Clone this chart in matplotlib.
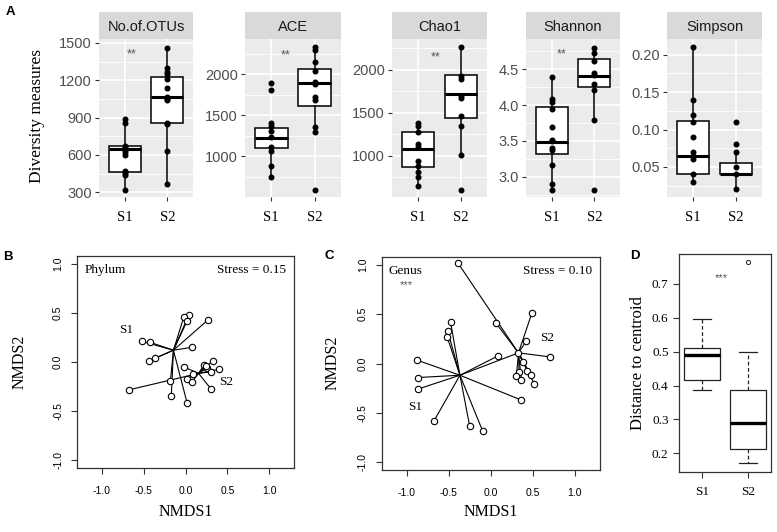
import matplotlib
matplotlib.use("Agg")
import matplotlib.pyplot as plt
import numpy as np

plt.rcParams['axes.unicode_minus'] = False
SANS = 'Liberation Sans'
SERIF = 'Liberation Serif'

W, H = 777, 532

# ---------------- Panel A data ----------------
metrics = ["No.of.OTUs", "ACE", "Chao1", "Shannon", "Simpson"]
groups = ["S1", "S2"]

otus_s1 = [886, 854, 674, 653, 640, 626, 600, 473, 452, 438, 318]
otus_s2 = [1462, 1296, 1269, 1251, 1208, 1136, 1068, 1052, 1042, 859, 849, 632, 364]
ace_s1 = [1894, 1805, 1398, 1366, 1305, 1235, 1113, 1065, 881, 747]
ace_s2 = [2325, 2293, 2150, 2041, 1906, 1878, 1723, 1683, 1358, 1289, 585]
chao_s1 = [1380, 1349, 1283, 1139, 1101, 945, 887, 817, 752, 655]
chao_s2 = [2264, 1930, 1891, 1698, 1671, 1465, 1349, 1012, 605]
shan_s1 = [4.385, 4.083, 4.046, 3.944, 3.69, 3.52, 3.50, 3.40, 3.37, 3.16, 2.90, 2.82]
shan_s2 = [4.80, 4.72, 4.61, 4.44, 4.42, 4.30, 4.21, 3.79, 2.82]
simp_s1 = [0.21, 0.14, 0.12, 0.11, 0.09, 0.07, 0.065, 0.06, 0.04, 0.03]
simp_s2 = [0.11, 0.08, 0.07, 0.05, 0.04, 0.02]

# box statistics: whislo, q1, median, q3, whishi
otus_box = [[318, 460, 648, 674, 886], [364, 859, 1063, 1224, 1462]]
ace_box = [[747, 1097, 1223, 1337, 1398], [1289, 1610, 1886, 2061, 2325]]
chao_box = [[655, 875, 1078, 1275, 1380], [1012, 1438, 1721, 1942, 2264]]
shan_box = [[2.82, 3.315, 3.48, 3.968, 4.385], [3.79, 4.25, 4.40, 4.64, 4.80]]
simp_box = [[0.03, 0.04, 0.065, 0.112, 0.21], [0.02, 0.04, 0.04, 0.055, 0.07]]

a_points = [(otus_s1, otus_s2), (ace_s1, ace_s2), (chao_s1, chao_s2),
            (shan_s1, shan_s2), (simp_s1, simp_s2)]
a_boxes = [otus_box, ace_box, chao_box, shan_box, simp_box]
a_ylims = [(262, 1532), (500, 2427), (523, 2360), (2.72, 4.92), (0.0098, 0.221)]
a_yticks = [[300, 600, 900, 1200, 1500], [1000, 1500, 2000], [1000, 1500, 2000],
            [3.0, 3.5, 4.0, 4.5], [0.05, 0.10, 0.15, 0.20]]
a_ytick_labels = [["300", "600", "900", "1200", "1500"], ["1000", "1500", "2000"],
                  ["1000", "1500", "2000"], ["3.0", "3.5", "4.0", "4.5"],
                  ["0.05", "0.10", "0.15", "0.20"]]
a_minor = [[450, 750, 1050, 1350], [750, 1250, 1750, 2250], [750, 1250, 1750, 2250],
           [2.75, 3.25, 3.75, 4.25, 4.75], [0.025, 0.075, 0.125, 0.175]]
a_sig = ["**", "**", "**", "**", ""]
a_sig_pos = [(1.17, 1409), (1.34, 2232), (1.42, 2143), (1.24, 4.70), (1.5, 0.2)]

# ---------------- Panel B data (Phylum NMDS) ----------------
b_s1_x = [0.04, -0.02, 0.02, 0.27, -0.52, -0.42, 0.08, -0.36, -0.44, -0.18, -0.17, 0.02]
b_s1_y = [0.48, 0.46, 0.42, 0.43, 0.21, 0.20, 0.15, 0.04, 0.01, -0.19, -0.35, -0.42]
b_s2_x = [-0.02, 0.02, 0.08, 0.09, 0.22, 0.33, 0.26, 0.40, 0.30, 0.31, -0.68, 0.24]
b_s2_y = [-0.05, -0.17, -0.20, -0.12, -0.03, 0.015, -0.06, -0.075, -0.10, -0.28, -0.285, -0.04]
b_centroids = [(-0.144, 0.12), (0.156, -0.116)]

# ---------------- Panel C data (Genus NMDS) ----------------
c_s1_x = [-0.477, -0.51, -0.518, -0.876, -0.86, -0.86, -0.673, -0.25, -0.095, 0.362, 0.087, 0.33]
c_s1_y = [0.417, 0.329, 0.271, 0.034, -0.142, -0.258, -0.58, -0.635, -0.686, -0.37, 0.077, 0.108]
c_s2_x = [-0.39, 0.06, 0.489, 0.425, 0.704, 0.385, 0.437, 0.338, 0.306, 0.366, 0.477, 0.517]
c_s2_y = [1.02, 0.413, 0.509, 0.23, 0.067, 0.016, -0.075, -0.085, -0.129, -0.17, -0.119, -0.204]
c_centroids = [(-0.366, -0.119), (0.33, 0.108)]

# ---------------- Panel D data (distance to centroid) ----------------
d_box = [[0.387, 0.415, 0.489, 0.51, 0.597], [0.17, 0.212, 0.29, 0.387, 0.498]]
d_outliers = [[], [0.765]]

# =====================================================================
fig = plt.figure(figsize=(W / 100, H / 100), dpi=100)


def fx(px):
    return px / W


def fy(py):
    return 1 - py / H


a_xpix = [(99, 193), (245, 341), (392, 487), (526, 620), (667, 762)]
a_top, a_bot, strip_top = 39, 197, 12

for i, m in enumerate(metrics):
    x0, x1 = a_xpix[i]
    ax = fig.add_axes([fx(x0), fy(a_bot), fx(x1 - x0), (a_bot - a_top) / H])
    ax.set_facecolor('#EBEBEB')
    for s in ax.spines.values():
        s.set_visible(False)
    ax.set_xlim(0.4, 2.6)
    ax.set_ylim(*a_ylims[i])
    for v in a_minor[i]:
        ax.axhline(v, color='white', lw=0.6, zorder=0.5)
    for v in a_yticks[i]:
        ax.axhline(v, color='white', lw=1.2, zorder=0.6)
    for v in [1, 2]:
        ax.axvline(v, color='white', lw=1.2, zorder=0.6)
    stats = []
    for g in range(2):
        lo, q1, med, q3, hi = a_boxes[i][g]
        stats.append(dict(whislo=lo, q1=q1, med=med, q3=q3, whishi=hi, fliers=[]))
    ax.bxp(stats, positions=[1, 2], widths=0.75, patch_artist=True, showcaps=False,
           boxprops=dict(facecolor='white', edgecolor='black', lw=1.1),
           whiskerprops=dict(color='black', lw=1.1),
           medianprops=dict(color='black', lw=2.2), zorder=2)
    for g in range(2):
        pts = a_points[i][g]
        ax.plot([g + 1] * len(pts), pts, 'o', color='black', ms=3.3, zorder=3)
    ax.set_xticks([1, 2])
    ax.set_xticklabels(groups, fontfamily=SERIF, fontsize=10.5, color='black')
    ax.set_yticks(a_yticks[i])
    ax.set_yticklabels(a_ytick_labels[i], fontfamily=SANS, fontsize=10.5, color='#4D4D4D')
    ax.tick_params(axis='both', length=3, width=0.8, color='#333333', pad=2)
    ax.tick_params(axis='x', pad=7)
    if a_sig[i]:
        ax.text(*a_sig_pos[i], a_sig[i], ha='center', va='center', fontsize=9,
                color='#555555', fontfamily=SANS)
    # strip
    sax = fig.add_axes([fx(x0), fy(a_top), fx(x1 - x0), (a_top - strip_top) / H])
    sax.set_facecolor('#D9D9D9')
    sax.set_xticks([])
    sax.set_yticks([])
    for s in sax.spines.values():
        s.set_visible(False)
    sax.text(0.5, 0.45, m, ha='center', va='center', fontsize=10.5,
             fontfamily=SANS, color='#1A1A1A', transform=sax.transAxes)

fig.text(fx(37), fy(116), "Diversity measures", rotation=90, ha='center', va='center',
         fontsize=12.5, fontfamily=SERIF)


def nmds_panel(rect, s1x, s1y, s2x, s2y, cents, title, stress, lab_pos, extra=None):
    ax = fig.add_axes(rect)
    ax.set_xlim(-1.296, 1.296)
    ax.set_ylim(-1.08, 1.08)
    for (xs, ys), (cx, cy) in zip([(s1x, s1y), (s2x, s2y)], cents):
        for x, y in zip(xs, ys):
            ax.plot([cx, x], [cy, y], color='black', lw=0.8, zorder=2)
        ax.plot(xs, ys, 'o', ms=4.6, mfc='white', mec='black', mew=0.8, zorder=3)
    ax.set_xticks([-1.0, -0.5, 0.0, 0.5, 1.0])
    ax.set_xticklabels(["-1.0", "-0.5", "0.0", "0.5", "1.0"], fontfamily=SANS, fontsize=7.5)
    ax.set_yticks([-1.0, -0.5, 0.0, 0.5, 1.0])
    ax.set_yticklabels(["-1.0", "-0.5", "0.0", "0.5", "1.0"], fontfamily=SANS, fontsize=7.5,
                       rotation=90, va='center')
    ax.tick_params(length=4, width=0.8, color='#333333')
    ax.tick_params(axis='x', pad=9)
    ax.tick_params(axis='y', pad=6)
    for s in ax.spines.values():
        s.set_color('#333333')
        s.set_linewidth(0.9)
    ax.text(-1.21, 0.94, title, ha='left', va='center', fontfamily=SERIF, fontsize=9.5)
    ax.text(1.2, 0.94, stress, ha='right', va='center', fontfamily=SERIF, fontsize=9.5)
    for lab, (x, y) in zip(groups, lab_pos):
        ax.text(x, y, lab, ha='center', va='center', fontfamily=SERIF, fontsize=9.5)
    if extra:
        ax.text(*extra[0], extra[1], ha='center', va='center', fontfamily=SANS,
                fontsize=8, color='#555555')
    return ax


nmds_panel([fx(77), fy(468), fx(217), 212 / H], b_s1_x, b_s1_y, b_s2_x, b_s2_y,
           b_centroids, "Phylum", "Stress = 0.15", [(-0.71, 0.33), (0.49, -0.20)])
nmds_panel([fx(381.7), fy(470), fx(218), 213 / H], c_s1_x, c_s1_y, c_s2_x, c_s2_y,
           c_centroids, "Genus", "Stress = 0.10", [(-0.9, -0.44), (0.675, 0.254)],
           extra=((-1.0, 0.80), "***"))

fig.text(fx(185.5), fy(512), "NMDS1", ha='center', va='center', fontfamily=SERIF, fontsize=11.5)
fig.text(fx(20), fy(362), "NMDS2", ha='center', va='center', rotation=90,
         fontfamily=SERIF, fontsize=11.5)
fig.text(fx(490.7), fy(512), "NMDS1", ha='center', va='center', fontfamily=SERIF, fontsize=11.5)
fig.text(fx(333), fy(363), "NMDS2", ha='center', va='center', rotation=90,
         fontfamily=SERIF, fontsize=11.5)

# Panel D
axd = fig.add_axes([fx(679), fy(472.3), fx(92), 218 / H])
axd.set_xlim(0.5, 2.5)
axd.set_ylim(0.144, 0.787)
dstats = []
for g in range(2):
    lo, q1, med, q3, hi = d_box[g]
    dstats.append(dict(whislo=lo, q1=q1, med=med, q3=q3, whishi=hi, fliers=d_outliers[g]))
axd.bxp(dstats, positions=[1, 2], widths=0.8, patch_artist=True,
        boxprops=dict(facecolor='white', edgecolor='#222222', lw=0.9),
        whiskerprops=dict(color='#222222', lw=0.9, ls=(0, (3, 2))),
        capprops=dict(color='#222222', lw=0.9),
        medianprops=dict(color='black', lw=2.4),
        flierprops=dict(marker='o', ms=3, mfc='none', mec='#222222', mew=0.7),
        capwidths=0.4)
axd.set_xticks([1, 2])
axd.set_xticklabels(groups, fontfamily=SERIF, fontsize=9.5)
axd.set_yticks([0.2, 0.3, 0.4, 0.5, 0.6, 0.7])
axd.set_yticklabels(["0.2", "0.3", "0.4", "0.5", "0.6", "0.7"], fontfamily=SERIF, fontsize=9.5)
axd.tick_params(length=4, width=0.8, color='#333333')
axd.tick_params(axis='x', pad=6)
for s in axd.spines.values():
    s.set_color('#333333')
    s.set_linewidth(0.9)
axd.text(1.41, 0.716, "***", ha='center', va='center', fontfamily=SANS, fontsize=8,
         color='#555555')
fig.text(fx(638), fy(363), "Distance to centroid", rotation=90, ha='center', va='center',
         fontfamily=SERIF, fontsize=12)

# panel letters
for lab, (px, py) in zip("ABCD", [(10, 12), (8, 257), (329, 256), (635, 256)]):
    fig.text(fx(px), fy(py), lab, ha='center', va='center', fontfamily=SANS,
             fontweight='bold', fontsize=9.5)

fig.savefig("out.png", dpi=100)
